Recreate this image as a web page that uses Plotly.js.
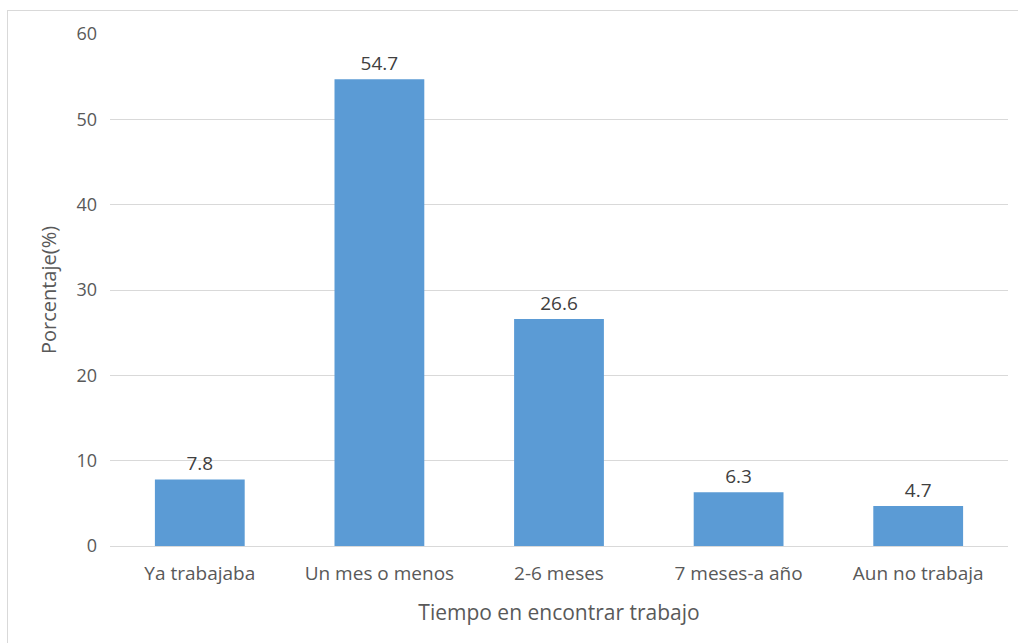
<!DOCTYPE html>
<html>
<head>
<meta charset="utf-8">
<script src="https://cdn.plot.ly/plotly-3.0.1.min.js"></script>
<style>
html,body{margin:0;padding:0;background:#fff;}
#wrap{position:relative;width:1018px;height:643px;}
#chart{width:1018px;height:643px;}
#frame{position:absolute;left:7px;top:10px;width:1020px;height:640px;border:1px solid #d9d9d9;pointer-events:none;box-sizing:border-box;}
</style>
</head>
<body>
<div id="wrap">
<div id="chart"></div>
<div id="frame"></div>
</div>
<script>
const categories = ["Ya trabajaba", "Un mes o menos", "2-6 meses", "7 meses-a año", "Aun no trabaja"];
const values = [7.8, 54.7, 26.6, 6.3, 4.7];
const yTicks = [0, 10, 20, 30, 40, 50, 60];

const fontFam = "'Open Sans', 'DejaVu Sans', sans-serif";

Plotly.newPlot('chart', [{
  type: 'bar',
  x: categories,
  y: values,
  text: values.map(v => v.toFixed(1)),
  textposition: 'outside',
  cliponaxis: false,
  textfont: {family: fontFam, size: 19, color: '#404040'},
  marker: {color: '#5b9bd5', line: {width: 0}},
  hoverinfo: 'skip'
}], {
  width: 1018,
  height: 643,
  margin: {l: 110, r: 10, t: 34, b: 97},
  paper_bgcolor: 'rgba(0,0,0,0)',
  plot_bgcolor: 'rgba(0,0,0,0)',
  bargap: 0.5,
  showlegend: false,
  font: {family: fontFam, color: '#595959'},
  xaxis: {
    showgrid: false,
    showline: false,
    zeroline: false,
    ticks: '',
    tickfont: {family: fontFam, size: 19, color: '#595959'},
    ticklabelstandoff: 14,
    title: {text: 'Tiempo en encontrar trabajo', font: {family: fontFam, size: 21, color: '#595959'}, standoff: 20}
  },
  yaxis: {
    range: [0, 60],
    tickvals: yTicks,
    showgrid: true,
    gridcolor: '#d9d9d9',
    gridwidth: 1,
    zeroline: true,
    zerolinecolor: '#d9d9d9',
    zerolinewidth: 1,
    showline: false,
    ticks: '',
    tickfont: {family: fontFam, size: 18, color: '#595959'},
    ticklabelstandoff: 12,
    title: {text: 'Porcentaje(%)', font: {family: fontFam, size: 20, color: '#595959'}, standoff: 14}
  }
}, {displayModeBar: false, staticPlot: true});
</script>
</body>
</html>
